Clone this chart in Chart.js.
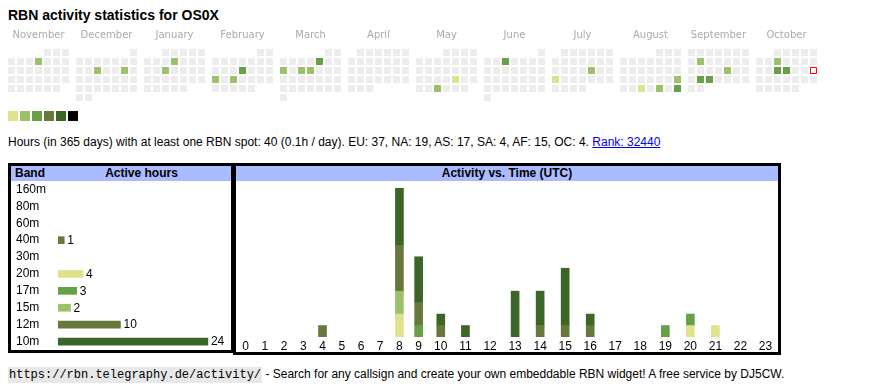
<!DOCTYPE html>
<html>
<head>
<meta charset="utf-8">
<script src="https://cdn.jsdelivr.net/npm/chart.js@4.4.0/dist/chart.umd.min.js"></script>
<style>
html,body{margin:0;padding:0;background:#fff;}
body{width:870px;height:390px;position:relative;overflow:hidden;font-family:"Liberation Sans",Arial,sans-serif;color:#000;}
#title{position:absolute;left:8px;top:7px;font-weight:bold;font-size:14px;line-height:16px;white-space:nowrap;}
#calWrap{position:absolute;left:0;top:25px;width:870px;height:105px;}
#summary{position:absolute;left:8px;top:135px;font-size:12px;line-height:14px;white-space:nowrap;}
#summary a{color:#00e;}
.box{position:absolute;border:3px solid #000;background:#fff;}
#bandBox{left:8px;top:163px;width:220px;height:184px;border-right-width:2px;}
#actBox{left:233px;top:163px;width:542px;height:186px;}
.hdr{height:15px;line-height:15px;background:#aabbff;font-weight:bold;font-size:12px;position:relative;white-space:nowrap;}
.hdr span{position:absolute;top:0;}
canvas{display:block;}
#footer{position:absolute;left:8px;top:367px;font-size:12px;line-height:14px;white-space:nowrap;}
#footer code{font-family:"Liberation Mono",monospace;font-size:12px;background:#e8e8e8;padding:1px 1px;}
</style>
</head>
<body>
<div id="title">RBN activity statistics for OS0X</div>
<div id="calWrap"><canvas id="cal" width="870" height="105"></canvas></div>
<div id="summary">Hours (in 365 days) with at least one RBN spot: 40 (0.1h / day). EU: 37, NA: 19, AS: 17, SA: 4, AF: 15, OC: 4. <a href="#">Rank: 32440</a></div>
<div class="box" id="bandBox">
  <div class="hdr"><span style="left:4px">Band</span><span style="left:41px;right:0;text-align:center">Active hours</span></div>
  <canvas id="bands" width="220" height="169"></canvas>
</div>
<div class="box" id="actBox">
  <div class="hdr" style="text-align:center">Activity vs. Time (UTC)</div>
  <canvas id="act" width="542" height="171"></canvas>
</div>
<div id="footer"><code>https://rbn.telegraphy.de/activity/</code> - Search for any callsign and create your own embeddable RBN widget! A free service by DJ5CW.</div>

<script>
// ---------------- DATA ----------------
const monthLabels = ['November','December','January','February','March','April','May','June','July','August','September','October'];
const firstYear = 2024, firstMonth = 10; // November 2024
const activeDays = ['2024-11-07','2024-12-11','2024-12-14','2025-01-09','2025-01-15','2025-02-13','2025-02-17','2025-02-19',
  '2025-03-07','2025-03-10','2025-03-12','2025-03-13','2025-05-23','2025-05-28','2025-06-04','2025-07-18','2025-07-21',
  '2025-08-24','2025-08-27','2025-08-29','2025-08-31','2025-09-09','2025-09-19','2025-09-23','2025-09-24',
  '2025-10-08','2025-10-15','2025-10-16'];
const activeLevels = [2,2,2,2,2,3,2,2, 3,2,2,2,1,2,3,2,1, 2,1,2,3,2,2,3,3, 2,3,3];
const todayDate = '2025-10-19';
const levelColors = ['#ececec','#dce38b','#9dc16b','#68a047','#66793a','#3c6628','#000000'];

const bands = ['160m','80m','60m','40m','30m','20m','17m','15m','12m','10m'];
const bandHours = [0,0,0,1,0,4,3,2,10,24];
const bandColors = ['#000000','#3c6628','#66793a','#66793a','#68a047','#dce38b','#68a047','#9dc16b','#66793a','#3c6628'];

const hours = ['0','1','2','3','4','5','6','7','8','9','10','11','12','13','14','15','16','17','18','19','20','21','22','23'];
const act40 = [0,0,0,0,1,0,0,0,0,0,0,0,0,0,0,0,0,0,0,0,0,0,0,0];
const act20 = [0,0,0,0,0,0,0,0,2,0,0,0,0,0,0,0,0,0,0,0,1,1,0,0];
const act17 = [0,0,0,0,0,0,0,0,0,1,0,0,0,0,0,0,0,0,0,1,1,0,0,0];
const act15 = [0,0,0,0,0,0,0,0,2,0,0,0,0,0,0,0,0,0,0,0,0,0,0,0];
const act12 = [0,0,0,0,0,0,0,0,4,2,1,0,0,0,1,1,1,0,0,0,0,0,0,0];
const act10 = [0,0,0,0,0,0,0,0,5,4,1,1,0,4,3,5,1,0,0,0,0,0,0,0];

// ---------------- CALENDAR ----------------
const PITCH = 9;             // px per cell
const MONTH_STEP = 68 / 9;   // 7 cells + gap, in cell units
const pad2 = n => String(n).padStart(2,'0');
const levelByDay = {};
activeDays.forEach((d,i)=>{ levelByDay[d] = activeLevels[i]; });
const noPad = s => { s.paddingLeft = 0; s.paddingRight = 0; s.paddingTop = 0; s.paddingBottom = 0; };

const dayPts = [], dayCols = [], todayPts = [];
for (let mi = 0; mi < 12; mi++) {
  const y = firstYear + Math.floor((firstMonth + mi) / 12);
  const m = (firstMonth + mi) % 12;
  const offset = (new Date(Date.UTC(y, m, 1)).getUTCDay() + 6) % 7;
  const nd = new Date(Date.UTC(y, m + 1, 0)).getUTCDate();
  for (let d = 1; d <= nd; d++) {
    const idx = offset + d - 1;
    const key = y + '-' + pad2(m + 1) + '-' + pad2(d);
    const pt = {x: mi * MONTH_STEP + idx % 7, y: Math.floor(idx / 7)};
    if (key === todayDate) { todayPts.push(pt); continue; }
    dayPts.push(pt);
    dayCols.push(levelColors[levelByDay[key] || 0]);
  }
}
const legendPts = levelColors.slice(1).map((c,i)=>({x: (13 - 11.5)/PITCH + i * 12/PITCH, y: (116 - 52.5)/PITCH}));

const xMin = -11.5 / PITCH, yMin = -7.5 / PITCH;
new Chart(document.getElementById('cal'), {
  type: 'scatter',
  data: { datasets: [
    { data: todayPts, pointStyle: 'rect', pointRadius: 6/Math.SQRT2, backgroundColor: '#fff', borderColor: '#ff0000', borderWidth: 1 },
    { data: dayPts, pointStyle: 'rect', pointRadius: 7/Math.SQRT2, backgroundColor: dayCols, borderWidth: 0 },
    { data: legendPts, pointStyle: 'rect', pointRadius: 10/Math.SQRT2, backgroundColor: levelColors.slice(1), borderWidth: 0 }
  ]},
  options: {
    responsive: false, animation: false, devicePixelRatio: 1, events: [],
    layout: { padding: 0, autoPadding: false },
    plugins: { legend: {display:false}, tooltip: {enabled:false} },
    elements: { point: { hoverRadius: 0 } },
    scales: {
      x: { type: 'linear', position: 'top', bounds: 'data', offset: false, min: xMin, max: xMin + 870 / PITCH,
        grid: {display:false, drawTicks:false}, border: {display:false},
        afterBuildTicks: s => { s.ticks = monthLabels.map((_, i) => ({value: i * MONTH_STEP + 3})); },
        afterFit: s => { s.height = 20; noPad(s); },
        ticks: { autoSkip:false, maxRotation:0, padding:4, color:'#aaaaaa',
          font: {family:'"DejaVu Sans", Verdana, sans-serif', size:10},
          callback: (v, i) => monthLabels[i] } },
      y: { type: 'linear', display: false, reverse: true, offset: false, min: yMin, max: yMin + 85 / PITCH }
    }
  }
});

// ---------------- BANDS ----------------
const valueLabels = {
  id: 'valueLabels',
  afterDatasetsDraw(chart) {
    const ctx = chart.ctx, meta = chart.getDatasetMeta(0);
    ctx.save();
    ctx.font = '12px "Liberation Sans", Arial, sans-serif';
    ctx.fillStyle = '#000'; ctx.textBaseline = 'middle'; ctx.textAlign = 'left';
    meta.data.forEach((bar, i) => {
      const v = bandHours[i];
      if (v > 0) ctx.fillText(String(v), bar.x + 3, bar.y + 0.5);
    });
    ctx.restore();
  }
};
new Chart(document.getElementById('bands'), {
  type: 'bar',
  data: { labels: bands, datasets: [{ data: bandHours.map(v => v || null), backgroundColor: bandColors, barThickness: 7, borderWidth: 0 }] },
  options: {
    indexAxis: 'y', responsive: false, animation: false, devicePixelRatio: 1, events: [],
    layout: { padding: {left:5, right:0, top:0, bottom:0}, autoPadding: false },
    plugins: { legend: {display:false}, tooltip: {enabled:false} },
    scales: {
      x: { display: false, min: 0, max: 27.7 },
      y: { grid: {display:false, drawTicks:false}, border: {display:false},
        afterFit: s => { s.width = 42; noPad(s); },
        ticks: { autoSkip: false, crossAlign: 'far', padding: 0, color: '#000',
          font: {family:'"Liberation Sans", Arial, sans-serif', size:12} } }
    }
  },
  plugins: [valueLabels]
});

// ---------------- ACTIVITY ----------------
const ACT_W = 542, COL_EXTRA = 15.4;
const mctx = document.createElement('canvas').getContext('2d');
mctx.font = '12px "Liberation Sans", Arial, sans-serif';
const colRaw = hours.map(h => mctx.measureText(h).width + COL_EXTRA);
const colSum = colRaw.reduce((a,b)=>a+b,0);
const centers = []; let acc = 0;
colRaw.forEach(w => { const ww = w * ACT_W / colSum; centers.push(acc + ww/2); acc += ww; });
const series = [
  {label:'40m', data: act40, color:'#66793a'},
  {label:'20m', data: act20, color:'#dce38b'},
  {label:'17m', data: act17, color:'#68a047'},
  {label:'15m', data: act15, color:'#9dc16b'},
  {label:'12m', data: act12, color:'#66793a'},
  {label:'10m', data: act10, color:'#3c6628'}
];
const stackMax = Math.max(...hours.map((_, i) => series.reduce((a, s) => a + s.data[i], 0)));
new Chart(document.getElementById('act'), {
  type: 'bar',
  data: { datasets: series.map(s => ({
    label: s.label, backgroundColor: s.color, borderWidth: 0, barThickness: 8,
    data: s.data.map((v, i) => ({x: centers[i], y: v || null}))
  })) },
  options: {
    responsive: false, animation: false, devicePixelRatio: 1, events: [],
    layout: { padding: {left:0, right:0, top:7, bottom:0}, autoPadding: false },
    plugins: { legend: {display:false}, tooltip: {enabled:false} },
    scales: {
      x: { type: 'linear', stacked: true, bounds: 'data', offset: false, min: 0, max: ACT_W,
        grid: {display:false, drawTicks:false}, border: {display:false},
        afterBuildTicks: s => { s.ticks = centers.map(v => ({value: v})); },
        afterFit: s => { s.height = 15; noPad(s); },
        ticks: { autoSkip:false, maxRotation:0, padding:2, color:'#000',
          font: {family:'"Liberation Sans", Arial, sans-serif', size:12},
          callback: (v, i) => hours[i] } },
      y: { stacked: true, display: false, min: 0, max: stackMax }
    }
  }
});
</script>
</body>
</html>
